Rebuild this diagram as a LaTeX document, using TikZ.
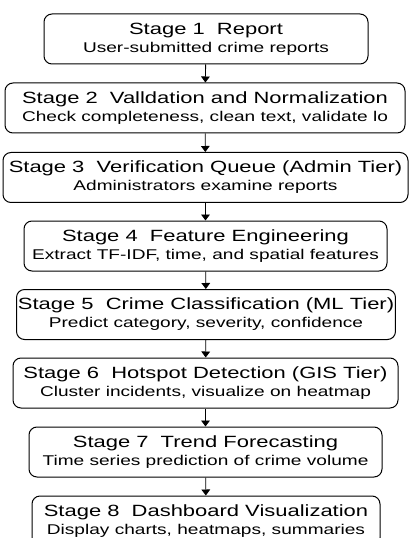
\documentclass[tikz,border=0pt]{standalone}
\usepackage{fontspec}
\usetikzlibrary{arrows.meta}
\newfontfamily\stagefont{Liberation Sans}[FakeStretch=1.35]
\newcommand\stagetitle[1]{{\fontsize{12.2}{13.5}\selectfont #1}}

\begin{document}
\begin{tikzpicture}[x=0.75pt,y=-0.75pt,
  stagebox/.style={draw, rounded corners=6pt, line width=0.75pt, minimum height=37.5pt,
    align=center, inner sep=1pt, font=\stagefont\fontsize{10.6}{13.5}\selectfont},
  >={Triangle[length=4.5pt,width=6.5pt]}]
\useasboundingbox (0,0) rectangle (409,538);
\node[stagebox, minimum width=243pt] (1) at (206,39) {\stagetitle{Stage 1~~Report}\\User-submitted crime reports};
\node[stagebox, minimum width=300pt] (2) at (205,108) {\stagetitle{Stage 2~~Valldation and Normalization}\\Check completeness, clean text, validate lo};
\node[stagebox, minimum width=303.75pt] (3) at (205.5,177.5) {\stagetitle{Stage 3~~Verification Queue (Admin Tier)}\\Administrators examine reports};
\node[stagebox, minimum width=272.25pt] (4) at (205.5,246) {\stagetitle{Stage 4~~Feature Engineering}\\Extract TF-IDF, time, and spatial features};
\node[stagebox, minimum width=283.5pt] (5) at (206,314.5) {\stagetitle{Stage 5~~Crime Classification (ML Tier)}\\Predict category, severity, confidence};
\node[stagebox, minimum width=288.75pt] (6) at (205.5,383) {\stagetitle{Stage 6~~Hotspot Detection (GIS Tier)}\\Cluster incidents, visualize on heatmap};
\node[stagebox, minimum width=264.75pt] (7) at (205.5,452) {\stagetitle{Stage 7~~Trend Forecasting}\\Time series prediction of crime volume};
\node[stagebox, minimum width=261pt] (8) at (206,521) {\stagetitle{Stage 8~~Dashboard Visualization}\\Display charts, heatmaps, summaries};
\path[draw,->,line width=0.65pt] (1) -- (2);
\path[draw,->,line width=0.65pt] (2) -- (3);
\path[draw,->,line width=0.65pt] (3) -- (4);
\path[draw,->,line width=0.65pt] (4) -- (5);
\path[draw,->,line width=0.65pt] (5) -- (6);
\path[draw,->,line width=0.65pt] (6) -- (7);
\path[draw,->,line width=0.65pt] (7) -- (8);
\end{tikzpicture}
\end{document}
